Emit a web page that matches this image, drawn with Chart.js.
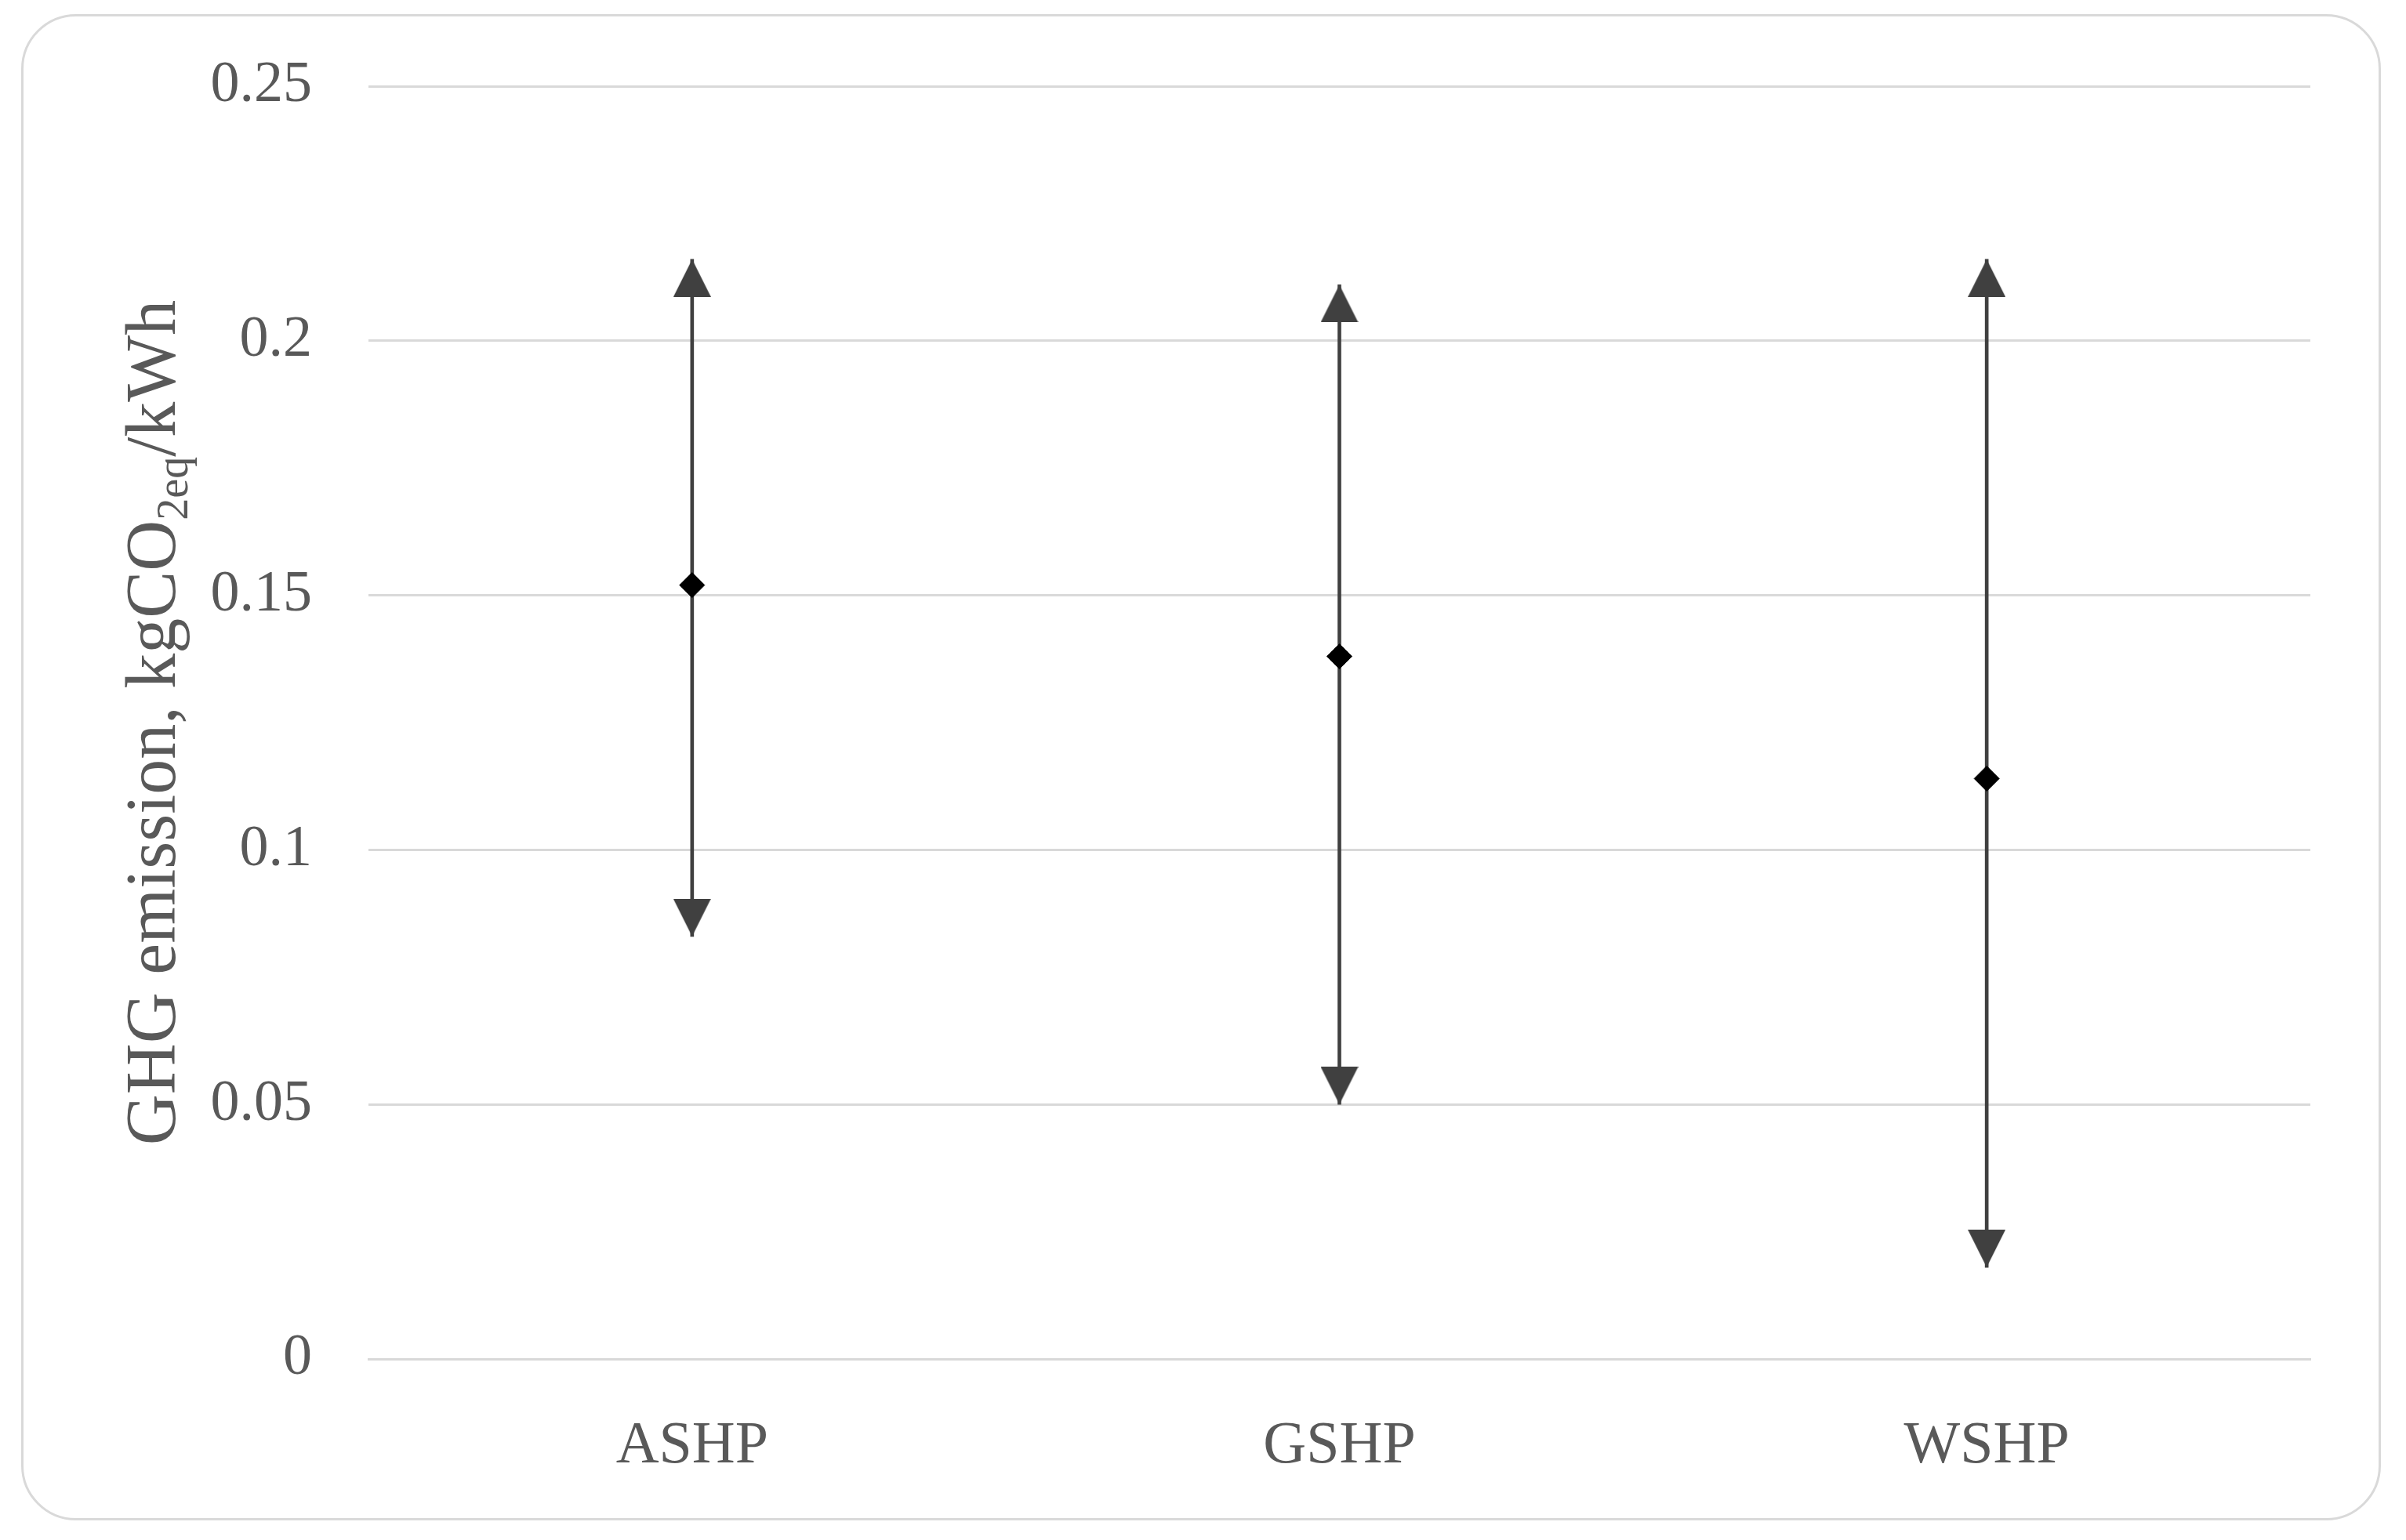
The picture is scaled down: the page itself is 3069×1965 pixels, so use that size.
<!DOCTYPE html>
<html>
<head>
<meta charset="utf-8">
<script src="https://cdn.jsdelivr.net/npm/chart.js@4.4.0/dist/chart.umd.min.js"></script>
<style>
html, body { margin: 0; padding: 0; background: #fff; }
#frame {
    position: absolute; left: 27px; top: 18px;
    width: 3010px; height: 1922px;
    box-sizing: border-box;
    border: 3px solid #d9d9d9; border-radius: 70px;
}
#holder { position: relative; width: 100%; height: 100%; }
</style>
</head>
<body>
<div id="frame"><div id="holder"><canvas id="chart"></canvas></div></div>
<script>
// values
const categories = ['ASHP', 'GSHP', 'WSHP'];
const highValues = [0.216, 0.211, 0.216];
const meanValues = [0.152, 0.138, 0.114];
const lowValues = [0.083, 0.050, 0.018];
const yTickLabels = ['0', '0.05', '0.1', '0.15', '0.2', '0.25'];

const textColor = '#595959';
const markColor = '#404040';
const gridColor = '#d9d9d9';
const serif = "'Liberation Serif', 'DejaVu Serif', serif";

// arrow head image: tip sits at the image centre so it lands on the value
function makeArrowHead(w, h) {
    const c = document.createElement('canvas');
    c.width = w;
    c.height = h * 2;
    const ctx = c.getContext('2d');
    ctx.fillStyle = markColor;
    ctx.beginPath();
    ctx.moveTo(w / 2, h);
    ctx.lineTo(w, h * 2);
    ctx.lineTo(0, h * 2);
    ctx.closePath();
    ctx.fill();
    return c;
}
const arrowHead = makeArrowHead(48, 48);

// y title with subscript
const yTitlePlugin = {
    id: 'yTitle',
    afterDraw(chart) {
        const ctx = chart.ctx;
        const area = chart.chartArea;
        const parts = [
            { text: 'GHG emission, kgCO', size: 90, shift: 0 },
            { text: '2eq', size: 56, shift: 16 },
            { text: '/kWh', size: 90, shift: 0 }
        ];
        ctx.save();
        let total = 0;
        parts.forEach(p => {
            ctx.font = p.size + 'px ' + serif;
            p.w = ctx.measureText(p.text).width;
            total += p.w;
        });
        ctx.translate(193, (area.top + area.bottom) / 2);
        ctx.rotate(-Math.PI / 2);
        ctx.fillStyle = textColor;
        ctx.textBaseline = 'alphabetic';
        ctx.textAlign = 'left';
        let x = -total / 2;
        parts.forEach(p => {
            ctx.font = p.size + 'px ' + serif;
            ctx.fillText(p.text, x, p.shift);
            x += p.w;
        });
        ctx.restore();
    }
};

new Chart(document.getElementById('chart'), {
    type: 'bar',
    data: {
        labels: categories,
        datasets: [
            {
                type: 'bar',
                data: categories.map((c, i) => [lowValues[i], highValues[i]]),
                backgroundColor: markColor,
                barThickness: 4,
                grouped: false,
                order: 3
            },
            {
                type: 'line',
                data: highValues,
                showLine: false,
                pointStyle: arrowHead,
                pointRotation: 0,
                order: 2
            },
            {
                type: 'line',
                data: lowValues,
                showLine: false,
                pointStyle: arrowHead,
                pointRotation: 180,
                order: 2
            },
            {
                type: 'line',
                data: meanValues,
                showLine: false,
                pointStyle: 'rectRot',
                pointRadius: 16,
                backgroundColor: '#000',
                borderColor: '#000',
                borderWidth: 1,
                order: 1
            }
        ]
    },
    options: {
        responsive: true,
        maintainAspectRatio: false,
        animation: false,
        events: [],
        layout: { padding: { left: 0, right: 87, top: 89, bottom: 10 } },
        plugins: {
            legend: { display: false },
            tooltip: { enabled: false }
        },
        scales: {
            x: {
                grid: { display: false, drawTicks: false },
                border: { color: gridColor, width: 3 },
                ticks: {
                    color: textColor,
                    font: { family: serif, size: 76 },
                    padding: 66
                },
                afterFit: s => { s.height = 193; }
            },
            y: {
                min: 0,
                max: 0.25,
                grid: { color: gridColor, lineWidth: 3, drawTicks: false },
                border: { display: false },
                ticks: {
                    stepSize: 0.05,
                    color: textColor,
                    font: { family: serif, size: 74 },
                    padding: 72,
                    callback: (v, i) => yTickLabels[i]
                },
                afterFit: s => {
                    s.width = 440;
                    s.paddingTop = 0;
                    s.paddingBottom = 0;
                }
            }
        }
    },
    plugins: [yTitlePlugin]
});
</script>
</body>
</html>
